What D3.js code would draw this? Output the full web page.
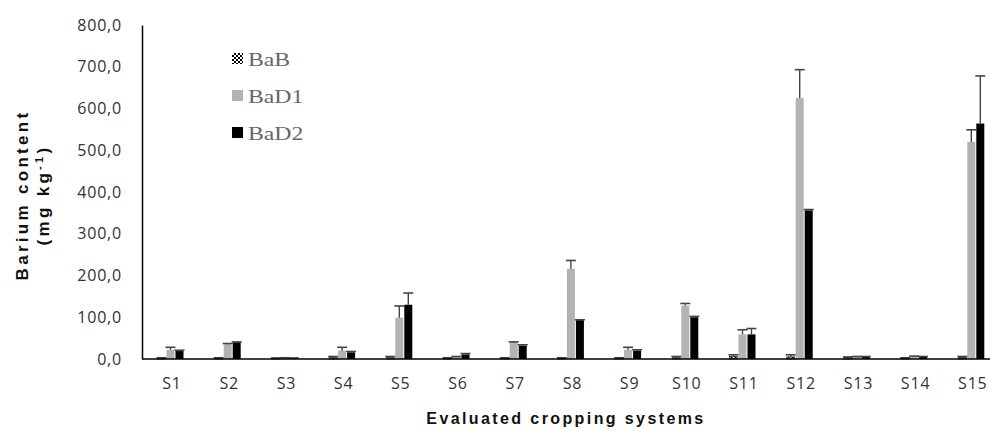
<!DOCTYPE html>
<html>
<head>
<meta charset="utf-8">
<script src="https://cdn.jsdelivr.net/npm/d3@7"></script>
<style>
  body { margin: 0; background: #fff; }
  .tick text { font-family: "Open Sans", "Liberation Sans", sans-serif; font-size: 16px; fill: #333; letter-spacing: 0.8px; }
  .axis-title { font-family: "Liberation Sans", Arial, sans-serif; font-weight: bold; fill: #111; }
  .legend-text { font-family: "Liberation Serif", "Times New Roman", serif; font-size: 19px; fill: #666; }
</style>
</head>
<body>
<svg id="chart" width="990" height="431"></svg>
<script>
// categories and series (mg kg-1), with standard errors
const systems = ['S1','S2','S3','S4','S5','S6','S7','S8','S9','S10','S11','S12','S13','S14','S15'];
const seriesNames = ['BaB', 'BaD1', 'BaD2'];
const baB    = [2, 2, 2, 3, 3, 2, 2, 2, 2, 3, 6, 5, 4, 2, 4];
const baBErr = [1, 1, 0.5, 3, 3, 1, 1, 1, 1, 3, 4, 5, 1, 1, 2];
const baD1    = [22, 35, 2, 20, 99, 5, 40, 216, 22, 128, 59, 625, 5, 6, 520];
const baD1Err = [6, 2, 1, 8, 28, 1, 1, 20, 6, 5, 11, 68, 1, 1, 29];
const baD2    = [19, 40, 2, 16, 130, 11, 32, 93, 20, 100, 59, 356, 5, 5, 564];
const baD2Err = [2, 1, 0.5, 2, 28, 2, 2, 1, 2, 2, 14, 2, 1, 1, 114];
const yTicks = [0, 100, 200, 300, 400, 500, 600, 700, 800];

const svg = d3.select('#chart');

// checkered fill for BaB
const defs = svg.append('defs');
const pat = defs.append('pattern')
    .attr('id', 'checker')
    .attr('width', 4).attr('height', 4)
    .attr('patternUnits', 'userSpaceOnUse');
pat.append('rect').attr('width', 4).attr('height', 4).attr('fill', '#fff');
pat.append('rect').attr('width', 2).attr('height', 2).attr('fill', '#000');
pat.append('rect').attr('x', 2).attr('y', 2).attr('width', 2).attr('height', 2).attr('fill', '#000');

const fills = { BaB: 'url(#checker)', BaD1: '#b3b3b3', BaD2: '#000' };

const x = d3.scaleBand().domain(systems).range([143.4, 1001.4]);
const xInner = d3.scaleBand().domain(seriesNames).range([-13.5, 13.5]);
const y = d3.scaleLinear().domain([0, 800]).range([359, 25]);

const rows = systems.map((s, i) => ({
    system: s,
    values: [
        { key: 'BaB', v: baB[i], e: baBErr[i] },
        { key: 'BaD1', v: baD1[i], e: baD1Err[i] },
        { key: 'BaD2', v: baD2[i], e: baD2Err[i] }
    ]
}));

// bars
const groups = svg.append('g').selectAll('g')
    .data(rows).join('g')
    .attr('transform', d => `translate(${x(d.system) + x.bandwidth() / 2 - 1.5},0)`);

groups.selectAll('rect')
    .data(d => d.values).join('rect')
    .attr('x', d => xInner(d.key) + 0.5)
    .attr('width', xInner.bandwidth() - 1)
    .attr('y', d => y(d.v))
    .attr('height', d => y(0) - y(d.v))
    .attr('fill', d => fills[d.key])
    .attr('stroke', d => d.key === 'BaB' ? '#000' : 'none')
    .attr('stroke-width', 0.6);

// error bars
const err = groups.selectAll('g.err')
    .data(d => d.values).join('g').attr('class', 'err');
err.append('line')
    .attr('x1', d => xInner(d.key) + xInner.bandwidth() / 2)
    .attr('x2', d => xInner(d.key) + xInner.bandwidth() / 2)
    .attr('y1', d => y(d.v))
    .attr('y2', d => y(d.v + d.e))
    .attr('stroke', '#444').attr('stroke-width', 1.4);
err.append('line')
    .attr('x1', d => xInner(d.key) + xInner.bandwidth() / 2 - 5)
    .attr('x2', d => xInner(d.key) + xInner.bandwidth() / 2 + 5)
    .attr('y1', d => y(d.v + d.e))
    .attr('y2', d => y(d.v + d.e))
    .attr('stroke', '#444').attr('stroke-width', 1.6);

// axes
const fmt = d => d3.format('.1f')(d).replace('.', ',');
const yAxis = svg.append('g')
    .attr('transform', 'translate(142,0)')
    .call(d3.axisLeft(y).tickValues(yTicks).tickFormat(fmt).tickSize(0).tickPadding(20));
yAxis.select('.domain').attr('stroke', '#000').attr('stroke-width', 1.5);

const xAxis = svg.append('g')
    .attr('transform', 'translate(0,359)')
    .call(d3.axisBottom(x).tickSize(0).tickPadding(19));
xAxis.select('.domain').attr('d', 'M142,0H1001').attr('stroke', '#000').attr('stroke-width', 1.5);

// axis titles
svg.append('text').attr('class', 'axis-title')
    .attr('transform', 'translate(28,195) rotate(-90)')
    .attr('text-anchor', 'middle')
    .style('font-size', '17px').style('letter-spacing', '3.3px')
    .text('Barium content');
const t2 = svg.append('text').attr('class', 'axis-title')
    .attr('transform', 'translate(49,195) rotate(-90)')
    .attr('text-anchor', 'middle')
    .style('font-size', '17px').style('letter-spacing', '3.3px');
t2.append('tspan').text('(mg kg');
t2.append('tspan').attr('font-size', '11px').attr('dy', '-6').text('-1');
t2.append('tspan').attr('dy', '6').text(')');

svg.append('text').attr('class', 'axis-title')
    .attr('x', 566).attr('y', 424)
    .attr('text-anchor', 'middle')
    .style('font-size', '16px').style('letter-spacing', '2.4px')
    .text('Evaluated cropping systems');

// legend
const legend = svg.append('g').attr('transform', 'translate(232,59)')
    .selectAll('g').data(seriesNames).join('g')
    .attr('transform', (d, i) => `translate(0,${i * 37})`);
legend.append('rect')
    .attr('x', 0).attr('y', -6).attr('width', 11).attr('height', 11)
    .attr('fill', d => fills[d]);
legend.append('text').attr('class', 'legend-text')
    .attr('transform', 'translate(16,7) scale(1.25,1)')
    .text(d => d);
</script>
</body>
</html>
